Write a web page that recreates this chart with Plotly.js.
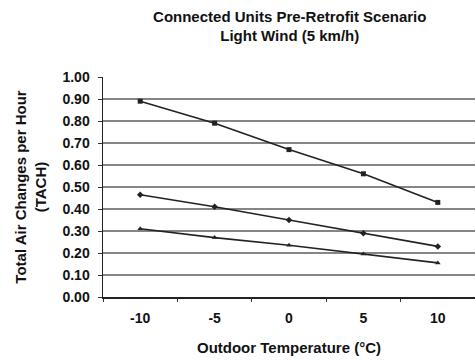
<!DOCTYPE html>
<html>
<head>
<meta charset="utf-8">
<script src="https://cdn.plot.ly/plotly-3.0.1.min.js"></script>
<style>html,body{margin:0;padding:0;background:#fff;}</style>
</head>
<body>
<div id="chart" style="width:475px;height:363px;"></div>
<script>
const temperatures = ["-10", "-5", "0", "5", "10"];
const seriesHigh = [0.89, 0.79, 0.67, 0.56, 0.43];
const seriesMid = [0.465, 0.41, 0.35, 0.29, 0.23];
const seriesLow = [0.31, 0.27, 0.235, 0.195, 0.155];
const yTickVals = [0, 0.1, 0.2, 0.3, 0.4, 0.5, 0.6, 0.7, 0.8, 0.9, 1.0];

const font = "Liberation Sans, Arial, sans-serif";
function trace(y, sym) {
  return {
    x: temperatures, y: y, type: "scatter", mode: "lines+markers",
    line: {color: "#222", width: 1.6},
    marker: {symbol: sym, size: 5, color: "#222"},
    showlegend: false, hoverinfo: "skip"
  };
}
const data = [trace(seriesHigh, "square"), trace(seriesMid, "diamond"), trace(seriesLow, "triangle-up")];
const layout = {
  width: 475, height: 363,
  margin: {l: 103, r: 0, t: 77, b: 66},
  paper_bgcolor: "#fff", plot_bgcolor: "#fff",
  font: {family: font, color: "#111", size: 14},
  title: {
    text: "<b>Connected Units Pre-Retrofit Scenario<br>Light Wind (5 km/h)</b>",
    font: {family: font, size: 15, color: "#111"},
    x: 0.61, xanchor: "center", y: 0.94, yanchor: "middle"
  },
  xaxis: {
    type: "category", range: [-0.5, 4.5],
    tickson: "boundaries", ticks: "outside", ticklen: 3, tickcolor: "#333",
    tickvals: temperatures, ticktext: temperatures.map(t => "<b>" + t + "</b>"),
    ticklabelstandoff: 8,
    showline: true, linecolor: "#222", linewidth: 1.5,
    showgrid: false, zeroline: false,
    tickfont: {family: font, size: 14, color: "#111"},
    title: {text: "<b>Outdoor Temperature (°C)</b>", font: {family: font, size: 15, color: "#111"}, standoff: 17}
  },
  yaxis: {
    range: [0, 1.0], tickvals: yTickVals,
    ticktext: yTickVals.map(v => "<b>" + v.toFixed(2) + "</b>"),
    ticks: "outside", ticklen: 4, tickcolor: "#333",
    ticklabelstandoff: 5,
    showline: true, linecolor: "#222", linewidth: 1.5,
    showgrid: true, gridcolor: "#858585", gridwidth: 1.8, zeroline: false,
    tickfont: {family: font, size: 14, color: "#111"},
    title: {text: "<b>Total Air Changes per Hour<br>(TACH)</b>", font: {family: font, size: 15, color: "#111"}, standoff: 12}
  }
};
Plotly.newPlot("chart", data, layout, {displayModeBar: false, staticPlot: true});
</script>
</body>
</html>
